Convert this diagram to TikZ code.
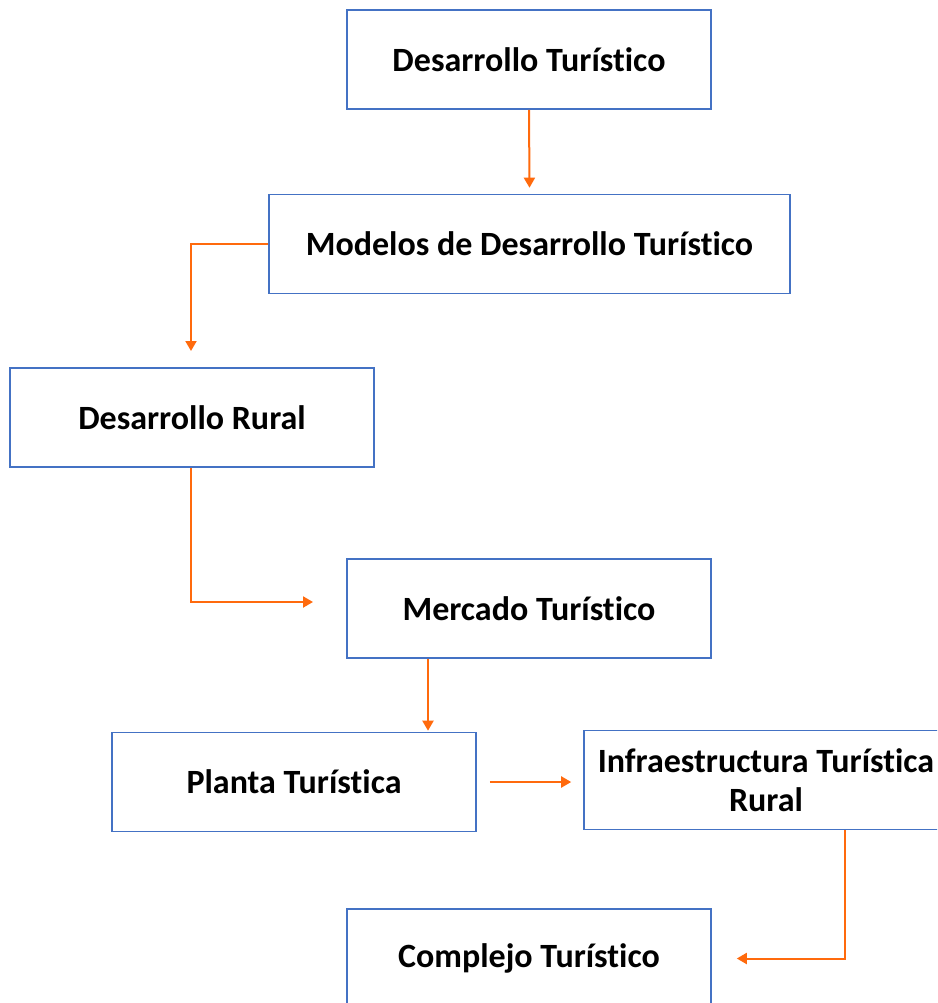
\documentclass[tikz,border=0pt]{standalone}
\usepackage{fontspec}
\setmainfont{Carlito}[Ligatures=NoCommon]
\usetikzlibrary{arrows.meta}
\definecolor{boxblue}{HTML}{4472C4}
\definecolor{linkorange}{HTML}{FF6A0D}
\tikzset{
  stage/.style={draw=boxblue, line width=1.6pt, fill=white, inner sep=0pt,
    minimum width=364pt, minimum height=99pt, align=center,
    font=\fontsize{34}{39}\selectfont\bfseries},
  link/.style={draw=linkorange, line width=2pt,
    -{Triangle[width=11pt,length=10pt]}}
}
\begin{document}
\begin{tikzpicture}[x=1pt,y=-1pt]
\useasboundingbox (0,0) rectangle (937,1003);
\clip (0,0) rectangle (937,1003);
\fill[white] (0,0) rectangle (937,1003);

\node[stage] (dt) at (529,59.5) {Desarrollo Turístico};
\node[stage, minimum width=521pt] (mod) at (529.5,244) {Modelos de Desarrollo Turístico};
\node[stage] (dr) at (192,417.5) {Desarrollo Rural};
\node[stage] (mer) at (529,608.5) {Mercado Turístico};
\node[stage] (pla) at (294,782) {Planta Turística};
\node[stage] (inf) at (766,780) {Infraestructura Turística\\Rural};
\node[stage] (com) at (529,958.5) {Complejo Turístico};

\coordinate (toRural) at (191,351);
\coordinate (toMercado) at (313,602);

\draw[link] (dt.south) -- ([yshift=6pt]mod.north);
\draw[link] (mod.west) -| (toRural);
\draw[link] ([xshift=-1pt]dr.south) |- (toMercado);
\draw[link] ([xshift=-101pt]mer.south) -- ([xshift=134pt,yshift=1pt]pla.north);
\draw[link] ([xshift=13pt]pla.east) -- ([xshift=-12pt]inf.west |- pla.east);
\draw[link] ([xshift=79pt]inf.south) |- ([xshift=25pt]com.east);
\end{tikzpicture}
\end{document}
